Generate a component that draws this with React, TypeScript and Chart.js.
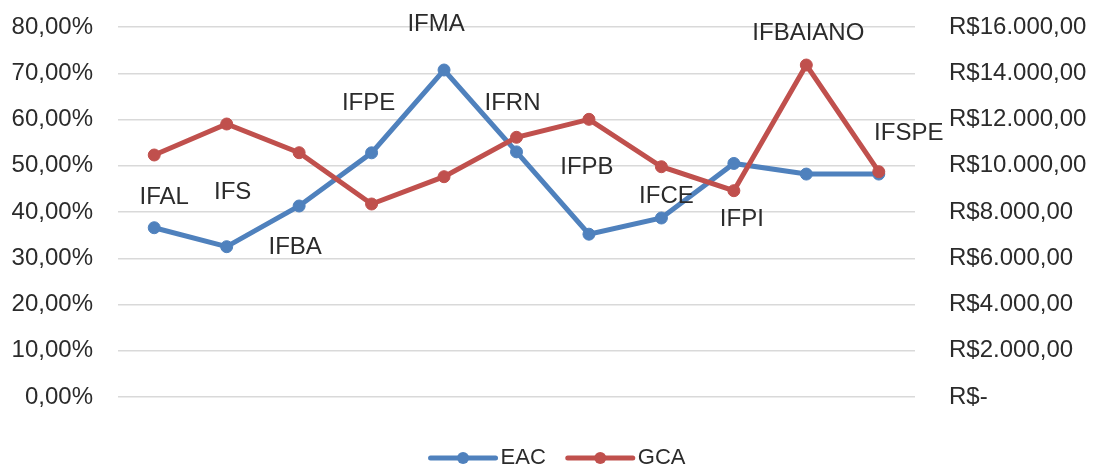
import React, { useEffect, useRef } from 'react';
import { Chart, registerables } from 'chart.js';

Chart.register(...registerables);

const categories = ['IFAL', 'IFS', 'IFBA', 'IFPE', 'IFMA', 'IFRN', 'IFPB', 'IFCE', 'IFPI', 'IFBAIANO', 'IFSPE'];
const eacValues = [36.6, 32.5, 41.3, 52.8, 70.7, 53.0, 35.2, 38.7, 50.5, 48.2, 48.2];
const gcaValues = [10465, 11805, 10564, 8346, 9526, 11230, 12008, 9958, 8921, 14356, 9742];
const seriesNames = ['EAC', 'GCA'];
const leftAxisMax = 80;
const leftAxisStep = 10;
const rightAxisMax = 16000;
const rightAxisStep = 2000;

// label placement relative to the EAC point (pixels)
const labelOffsets: [number, number][] = [
  [10, -30], [6, -54], [-4, 41], [-3, -49], [-8, -46], [-4, -49],
  [-2, -67], [5, -22], [8, 56], [2, -141], [30, -41],
];

const BLUE = '#4F81BD';
const RED = '#C0504D';
const TEXT = '#2b2b2b';
const FONT = '"Liberation Sans", Arial, sans-serif';

const fmtPct = (v: number) => v.toFixed(2).replace('.', ',') + '%';
const fmtBRL = (v: number) => {
  if (v === 0) return 'R$-';
  const s = Math.round(v).toString().replace(/\B(?=(\d{3})+(?!\d))/g, '.');
  return 'R$' + s + ',00';
};

const labelsPlugin = {
  id: 'catLabels',
  afterDatasetsDraw(chart: any) {
    const ctx = chart.ctx;
    const meta = chart.getDatasetMeta(0);
    ctx.save();
    ctx.font = `24px ${FONT}`;
    ctx.fillStyle = TEXT;
    ctx.textAlign = 'center';
    ctx.textBaseline = 'middle';
    meta.data.forEach((pt: any, i: number) => {
      const [dx, dy] = labelOffsets[i];
      ctx.fillText(categories[i], pt.x + dx, pt.y + dy);
    });
    ctx.restore();
  },
};

const legendPlugin = {
  id: 'customLegend',
  afterDraw(chart: any) {
    const ctx = chart.ctx;
    const colors = [BLUE, RED];
    const y = 458;
    const lineLen = 69;
    const gap = 3;
    const itemGap = 20;
    ctx.save();
    ctx.font = `22px ${FONT}`;
    const widths = seriesNames.map((n) => ctx.measureText(n).width);
    const total = widths.reduce((a, w) => a + lineLen + gap + w, 0) + itemGap * (seriesNames.length - 1);
    let x = 557 - total / 2;
    seriesNames.forEach((name, i) => {
      ctx.strokeStyle = colors[i];
      ctx.lineWidth = 5;
      ctx.lineCap = 'round';
      ctx.beginPath();
      ctx.moveTo(x + 2, y);
      ctx.lineTo(x + lineLen - 2, y);
      ctx.stroke();
      ctx.fillStyle = colors[i];
      ctx.beginPath();
      ctx.arc(x + lineLen / 2, y, 6, 0, Math.PI * 2);
      ctx.fill();
      ctx.fillStyle = TEXT;
      ctx.textAlign = 'left';
      ctx.textBaseline = 'middle';
      ctx.fillText(name, x + lineLen + gap, y);
      x += lineLen + gap + widths[i] + itemGap;
    });
    ctx.restore();
  },
};

export default function App() {
  const canvasRef = useRef<HTMLCanvasElement | null>(null);

  useEffect(() => {
    document.body.style.margin = '0';
    const canvas = canvasRef.current;
    if (!canvas) return;
    const chart = new Chart(canvas, {
      type: 'line',
      data: {
        labels: categories,
        datasets: [
          {
            label: seriesNames[0],
            data: eacValues,
            yAxisID: 'y',
            borderColor: BLUE,
            backgroundColor: BLUE,
            pointBackgroundColor: BLUE,
            pointBorderColor: BLUE,
            borderWidth: 5,
            pointRadius: 6,
            pointBorderWidth: 1,
            tension: 0,
            order: 1,
          },
          {
            label: seriesNames[1],
            data: gcaValues,
            yAxisID: 'y1',
            borderColor: RED,
            backgroundColor: RED,
            pointBackgroundColor: RED,
            pointBorderColor: RED,
            borderWidth: 5,
            pointRadius: 6,
            pointBorderWidth: 1,
            tension: 0,
            order: 0,
          },
        ],
      },
      options: {
        animation: false,
        responsive: false,
        devicePixelRatio: 1,
        layout: { padding: { top: 27, bottom: 73, left: 0, right: 0 } },
        plugins: {
          legend: { display: false },
          tooltip: { enabled: false },
        },
        scales: {
          x: {
            type: 'category',
            display: false,
            offset: true,
          },
          y: {
            position: 'left',
            min: 0,
            max: leftAxisMax,
            ticks: {
              stepSize: leftAxisStep,
              padding: 0,
              color: TEXT,
              font: { family: FONT, size: 24 },
              callback: (v: any) => fmtPct(Number(v)),
            },
            grid: {
              color: '#d9d9d9',
              lineWidth: 1.5,
              drawTicks: true,
              tickLength: 25,
              tickColor: 'rgba(0,0,0,0)',
            },
            border: { display: false },
            afterFit: (s: any) => { s.width = 118; },
          },
          y1: {
            position: 'right',
            min: 0,
            max: rightAxisMax,
            ticks: {
              stepSize: rightAxisStep,
              padding: 0,
              color: TEXT,
              font: { family: FONT, size: 24 },
              callback: (v: any) => fmtBRL(Number(v)),
            },
            grid: {
              display: true,
              drawOnChartArea: false,
              drawTicks: true,
              tickLength: 34,
              color: 'rgba(0,0,0,0)',
              tickColor: 'rgba(0,0,0,0)',
            },
            border: { display: false },
            afterFit: (s: any) => { s.width = 182; },
          },
        },
      },
      plugins: [labelsPlugin, legendPlugin],
    });
    return () => chart.destroy();
  }, []);

  return (
    <div style={{ width: 1097, height: 470 }}>
      <canvas ref={canvasRef} width={1097} height={470} />
    </div>
  );
}
